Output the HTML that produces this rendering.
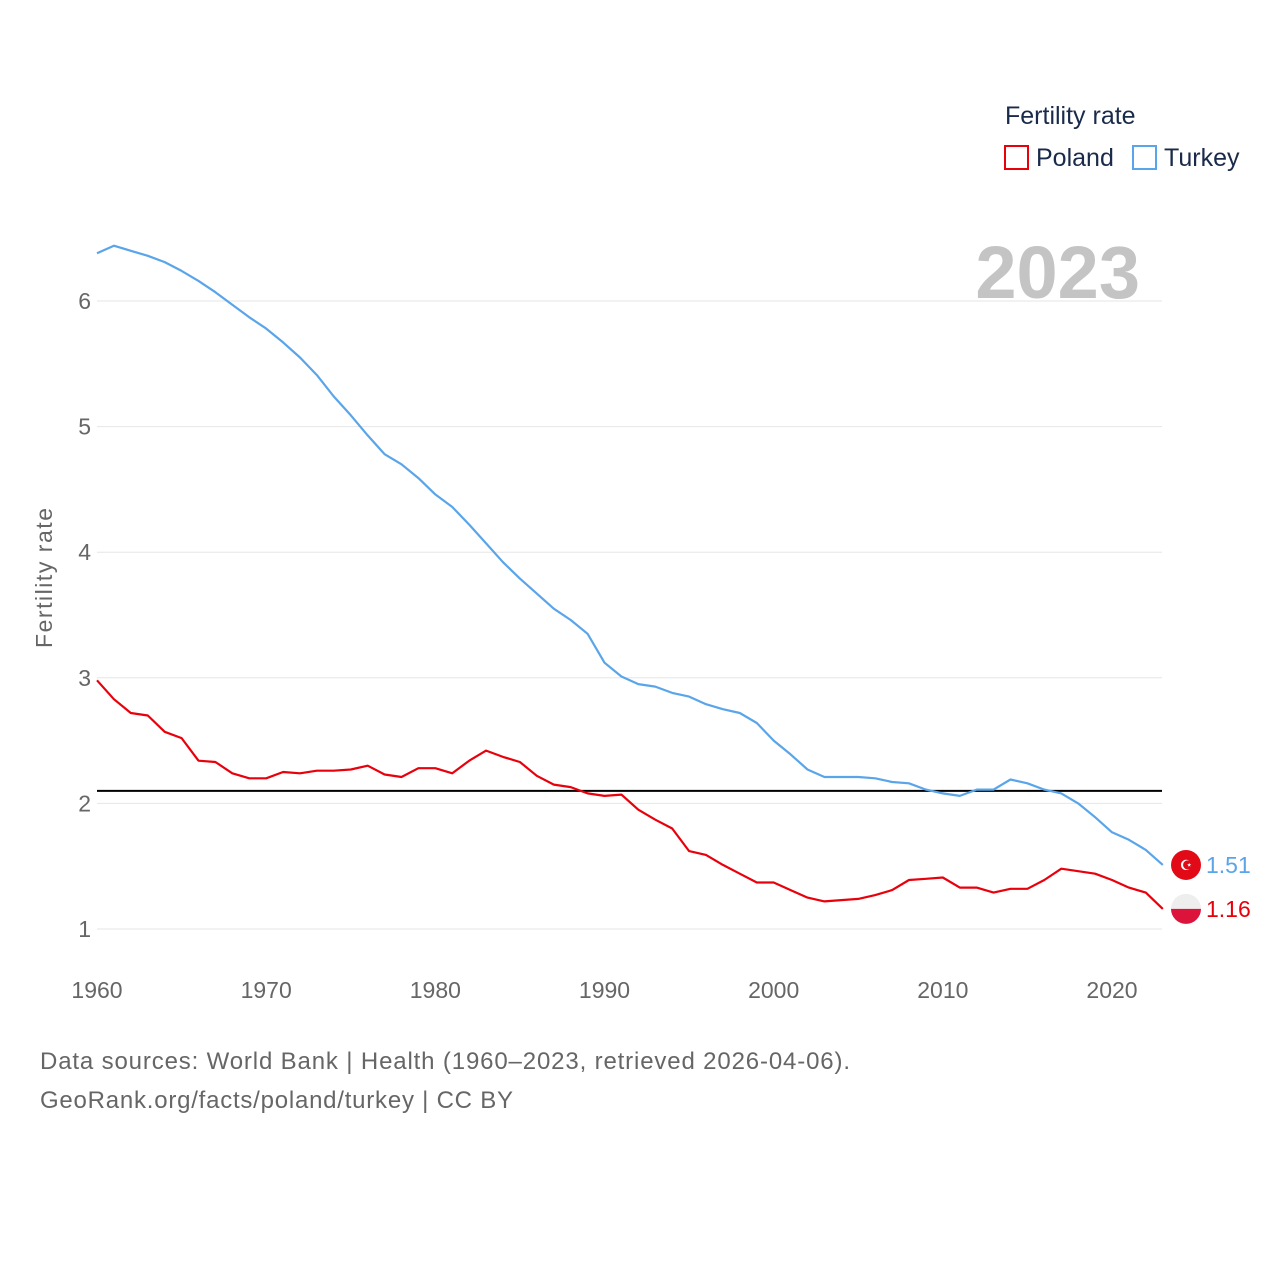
<!DOCTYPE html>
<html><head><meta charset="utf-8"><style>
html,body{margin:0;padding:0;background:#fff;width:1280px;height:1280px;overflow:hidden}
svg{display:block;font-family:"Liberation Sans",sans-serif}
</style></head><body>
<svg id="chart" width="1280" height="1280" viewBox="0 0 1280 1280">
<g id="grid"></g>
<g id="yticks"></g>
<g id="xticks"></g>
<text x="52" y="578" transform="rotate(-90 52 578)" text-anchor="middle" font-size="23" fill="#666" textLength="140">Fertility rate</text>
<text x="1140" y="298" text-anchor="end" font-size="74" font-weight="bold" fill="#c4c4c4">2023</text>
<g>
<text x="1005" y="124" font-size="25" fill="#1a2a4a">Fertility rate</text>
<g><rect x="1005" y="146" width="23" height="23" fill="none" stroke="#e8000b" stroke-width="2"/><text x="1036" y="166" font-size="25" fill="#1a2a4a">Poland</text></g>
<g><rect x="1133" y="146" width="23" height="23" fill="none" stroke="#5aa5ea" stroke-width="2"/><text x="1164" y="166" font-size="25" fill="#1a2a4a">Turkey</text></g>
</g>
<g id="series"></g>
<text x="40" y="1069" font-size="24" fill="#666" textLength="810">Data sources: World Bank | Health (1960–2023, retrieved 2026-04-06).</text>
<text x="40" y="1108" font-size="24" fill="#666" textLength="473">GeoRank.org/facts/poland/turkey | CC BY</text>
</svg>
<script>
const years=[];for(let y=1960;y<=2023;y++)years.push(y);
const turkey=[6.38,6.44,6.40,6.36,6.31,6.24,6.16,6.07,5.97,5.87,5.78,5.67,5.55,5.41,5.24,5.09,4.93,4.78,4.70,4.59,4.46,4.36,4.22,4.07,3.92,3.79,3.67,3.55,3.46,3.35,3.12,3.01,2.95,2.93,2.88,2.85,2.79,2.75,2.72,2.64,2.50,2.39,2.27,2.21,2.21,2.21,2.20,2.17,2.16,2.11,2.08,2.06,2.11,2.11,2.19,2.16,2.11,2.08,2.00,1.89,1.77,1.71,1.63,1.51];
const poland=[2.98,2.83,2.72,2.70,2.57,2.52,2.34,2.33,2.24,2.20,2.20,2.25,2.24,2.26,2.26,2.27,2.30,2.23,2.21,2.28,2.28,2.24,2.34,2.42,2.37,2.33,2.22,2.15,2.13,2.08,2.06,2.07,1.95,1.87,1.80,1.62,1.59,1.51,1.44,1.37,1.37,1.31,1.25,1.22,1.23,1.24,1.27,1.31,1.39,1.40,1.41,1.33,1.33,1.29,1.32,1.32,1.39,1.48,1.46,1.44,1.39,1.33,1.29,1.16];
const yTicks=[1,2,3,4,5,6];
const xTicks=[1960,1970,1980,1990,2000,2010,2020];
const replacement=[2.1];
const X=y=>97+(y-1960)*(1015/60);
const Y=v=>929-(v-1)*125.6;
const NS="http://www.w3.org/2000/svg";
function mk(tag,attrs,parent){const e=document.createElementNS(NS,tag);for(const k in attrs)e.setAttribute(k,attrs[k]);parent.appendChild(e);return e;}
const grid=document.getElementById('grid'),yt=document.getElementById('yticks'),xt=document.getElementById('xticks'),ser=document.getElementById('series');
yTicks.forEach(v=>{
 const l=mk('line',{x1:97,x2:1162,y1:Y(v),y2:Y(v),stroke:'#e6e6e6','stroke-width':1},grid);
 
 
 const t=mk('text',{x:91,y:Y(v)+8,'text-anchor':'end','font-size':23,fill:'#666'},yt);t.textContent=v;
 
 
});
xTicks.forEach(v=>{
 const t=mk('text',{x:X(v),y:998,'text-anchor':'middle','font-size':23,fill:'#666'},xt);t.textContent=v;
 
 
});
replacement.forEach(v=>{
 const l=mk('line',{x1:97,x2:1162,y1:Y(v),y2:Y(v),stroke:'#000','stroke-width':2},ser);
 
 
});
function line(data,color,name){
 const d=data.map((v,i)=>(i?'L':'M')+X(years[i]).toFixed(1)+','+Y(v).toFixed(1)).join(' ');
 const p=mk('path',{d:d,fill:'none',stroke:color,'stroke-width':2.2,'stroke-linejoin':'round'},ser);
 
 
}
line(turkey,'#5aa5ea','turkey-line');
line(poland,'#e8000b','poland-line');
const last=years.length-1;
const tv=turkey[last],pv=poland[last];
const c1=mk('circle',{cx:1186,cy:Y(tv),r:15,fill:'#e30a17'},ser);


const s1=mk('text',{x:1186,y:Y(tv)+5,'text-anchor':'middle','font-size':14,fill:'#fff'},ser);s1.textContent='☪';


const t1=mk('text',{x:1206,y:Y(tv)+8,'font-size':23,fill:'#5aa5ea'},ser);t1.textContent=tv.toFixed(2);


const py=Y(pv);
const c2=mk('path',{d:`M1171,${py} A15,15 0 0 1 1201,${py} Z`,fill:'#eee'},ser);


const c3=mk('path',{d:`M1171,${py} A15,15 0 0 0 1201,${py} Z`,fill:'#dc143c'},ser);


const t2=mk('text',{x:1206,y:py+8,'font-size':23,fill:'#e8000b'},ser);t2.textContent=pv.toFixed(2);


</script>
</body></html>
